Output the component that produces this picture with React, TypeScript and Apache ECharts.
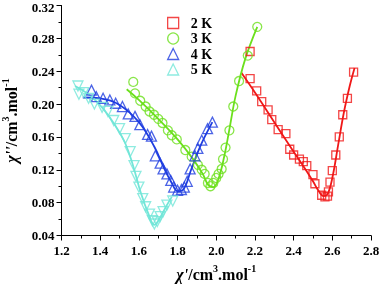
import React, { useEffect, useRef } from "react";
import * as echarts from "echarts";

const seriesNames = ["2 K", "3 K", "4 K", "5 K"];
const colors = ["#f01818", "#6be01c", "#1f3de0", "#72e6d8"];

const data2K = [
  [2.175, 0.264], [2.175, 0.231], [2.209, 0.216], [2.235, 0.203], [2.268, 0.193],
  [2.287, 0.181], [2.32, 0.169], [2.36, 0.164], [2.38, 0.145], [2.4, 0.138],
  [2.43, 0.133], [2.45, 0.13], [2.468, 0.125], [2.5, 0.114], [2.51, 0.103],
  [2.545, 0.089], [2.562, 0.087], [2.575, 0.088], [2.58, 0.093], [2.588, 0.105],
  [2.6, 0.119], [2.618, 0.138], [2.636, 0.16], [2.654, 0.187], [2.678, 0.207],
  [2.71, 0.239],
];
const data3K = [
  [1.571, 0.227], [1.58, 0.213], [1.607, 0.204], [1.635, 0.197], [1.655, 0.191],
  [1.678, 0.187], [1.7, 0.182], [1.722, 0.177], [1.75, 0.168], [1.77, 0.162],
  [1.796, 0.157], [1.84, 0.144], [1.873, 0.136], [1.905, 0.126], [1.925, 0.12],
  [1.94, 0.115], [1.957, 0.104], [1.97, 0.1], [1.985, 0.104], [2.0, 0.11],
  [2.012, 0.115], [2.028, 0.121], [2.035, 0.133], [2.048, 0.147], [2.068, 0.168],
  [2.088, 0.197], [2.118, 0.228], [2.163, 0.259], [2.212, 0.294],
];
const data4K = [
  [1.355, 0.217], [1.38, 0.209], [1.415, 0.207], [1.45, 0.205], [1.48, 0.201],
  [1.515, 0.197], [1.545, 0.188], [1.58, 0.185], [1.605, 0.175], [1.645, 0.163],
  [1.665, 0.161], [1.685, 0.137], [1.71, 0.128], [1.725, 0.121], [1.745, 0.115],
  [1.765, 0.107], [1.78, 0.099], [1.8, 0.095], [1.82, 0.096], [1.835, 0.099],
  [1.85, 0.106], [1.865, 0.121], [1.89, 0.137], [1.905, 0.146], [1.925, 0.156],
  [1.955, 0.17], [1.98, 0.178],
];
const data5K = [
  [1.285, 0.222], [1.29, 0.212], [1.315, 0.214], [1.34, 0.207], [1.37, 0.2],
  [1.41, 0.196], [1.44, 0.191], [1.47, 0.18], [1.5, 0.17], [1.53, 0.158],
  [1.555, 0.142], [1.575, 0.125], [1.585, 0.112], [1.6, 0.099], [1.62, 0.085],
  [1.635, 0.075], [1.655, 0.066], [1.67, 0.058], [1.68, 0.054], [1.695, 0.057],
  [1.71, 0.063], [1.725, 0.069], [1.745, 0.077], [1.775, 0.082],
];

const fit2K = [
  [2.13, 0.238], [2.2, 0.214], [2.3, 0.178], [2.4, 0.142], [2.46, 0.121],
  [2.5, 0.106], [2.53, 0.094], [2.555, 0.088], [2.575, 0.09], [2.6, 0.11],
  [2.63, 0.15], [2.66, 0.19], [2.69, 0.222], [2.715, 0.244],
];
const fit3K = [
  [1.537, 0.218], [1.6, 0.205], [1.7, 0.182], [1.8, 0.157], [1.88, 0.133],
  [1.93, 0.115], [1.96, 0.101], [1.985, 0.099], [2.01, 0.108], [2.04, 0.135],
  [2.07, 0.172], [2.1, 0.21], [2.15, 0.255], [2.212, 0.294],
];
const fit4K = [
  [1.31, 0.208], [1.4, 0.207], [1.5, 0.199], [1.6, 0.178], [1.68, 0.148],
  [1.73, 0.122], [1.77, 0.104], [1.8, 0.094], [1.83, 0.096], [1.87, 0.12],
  [1.92, 0.15], [1.98, 0.178],
];
const fit5K = [
  [1.27, 0.222], [1.35, 0.21], [1.42, 0.193], [1.48, 0.173], [1.53, 0.152],
  [1.57, 0.125], [1.61, 0.092], [1.65, 0.066], [1.68, 0.053], [1.71, 0.062],
  [1.74, 0.075], [1.77, 0.087],
];

const FONT = "Liberation Serif";
const rich = {
  i: { fontFamily: FONT, fontSize: 16, fontWeight: "bold", fontStyle: "italic", lineHeight: 21, color: "#000" },
  n: { fontFamily: FONT, fontSize: 16, fontWeight: "bold", lineHeight: 21, color: "#000" },
  s: { fontFamily: FONT, fontSize: 10, fontWeight: "bold", lineHeight: 11, verticalAlign: "top", color: "#000" },
};

export default function App() {
  const ref = useRef<HTMLDivElement>(null);
  useEffect(() => {
    const chart = echarts.init(ref.current!, null, { renderer: "svg" });
    const scatterData = [data2K, data3K, data4K, data5K];
    const fits = [fit2K, fit3K, fit4K, fit5K];
    const symbols = ["rect", "circle", "triangle", "triangle"];
    const sizes = [8, 9, 10, 10];
    const rotates = [0, 0, 0, 180];
    const series: any[] = [];
    fits.forEach((f, k) => {
      series.push({
        type: "line",
        name: seriesNames[k] + " fit",
        data: f,
        smooth: 0.4,
        showSymbol: false,
        lineStyle: { color: colors[k], width: 1.8 },
        z: 2,
      });
    });
    scatterData.forEach((d, k) => {
      series.push({
        type: "scatter",
        name: seriesNames[k],
        data: d,
        symbol: symbols[k],
        symbolSize: sizes[k],
        symbolRotate: rotates[k],
        itemStyle: { color: "transparent", borderColor: colors[k], borderWidth: 1.3 },
        z: 3,
      });
    });
    chart.setOption({
      animation: false,
      textStyle: { fontFamily: FONT, fontWeight: "bold" },
      grid: { left: 61.5, right: 9, top: 5.5, bottom: 48.5, outerBoundsMode: "none", containLabel: false },
      legend: {
        data: seriesNames.map((n, k) => ({ name: n, itemStyle: { color: "transparent", borderColor: colors[k], borderWidth: 1.3 } })),
        orient: "vertical",
        left: 162,
        top: 11,
        padding: 5,
        itemWidth: 11,
        itemHeight: 11,
        itemGap: 1.5,
        symbolRotate: "inherit",
        textStyle: { fontFamily: FONT, fontSize: 14, fontWeight: "bold", color: "#000", padding: [0, 0, 0, 7] },
      },
      xAxis: {
        type: "value",
        min: 1.2,
        max: 2.8,
        interval: 0.2,
        name: "{i|χ'}{n|/cm}{s|3}{n|.mol}{s|-1}",
        nameLocation: "middle",
        nameGap: 28,
        nameTextStyle: { rich },
        splitLine: { show: false },
        axisLine: { lineStyle: { color: "#000", width: 1 } },
        axisTick: { length: 5, lineStyle: { color: "#000" } },
        minorTick: { show: true, splitNumber: 2, length: 3, lineStyle: { color: "#000" } },
        axisLabel: {
          fontFamily: FONT, fontSize: 13, fontWeight: "bold", color: "#000", margin: 8,
          formatter: (v: number) => v.toFixed(1),
        },
      },
      yAxis: {
        type: "value",
        min: 0.04,
        max: 0.32,
        interval: 0.04,
        name: "{i|χ''}{n|/cm}{s|3}{n|.mol}{s|-1}",
        nameLocation: "middle",
        nameGap: 40,
        nameRotate: 90,
        nameTextStyle: { rich },
        splitLine: { show: false },
        axisLine: { show: true, lineStyle: { color: "#000", width: 1 } },
        axisTick: { show: true, length: 5, lineStyle: { color: "#000" } },
        minorTick: { show: true, splitNumber: 2, length: 3, lineStyle: { color: "#000" } },
        axisLabel: {
          fontFamily: FONT, fontSize: 13, fontWeight: "bold", color: "#000", margin: 7, lineHeight: 11,
          formatter: (v: number) => (v > 0.31 ? "{t|" + v.toFixed(2) + "}" : v.toFixed(2)),
          rich: {
            t: { fontFamily: FONT, fontSize: 13, fontWeight: "bold", color: "#000", lineHeight: 11, padding: [3, 0, 0, 0] },
          },
        },
      },
      series,
    });
    return () => chart.dispose();
  }, []);
  return <div ref={ref} style={{ width: 380, height: 284, position: "fixed", left: 0, top: 0 }} />;
}
